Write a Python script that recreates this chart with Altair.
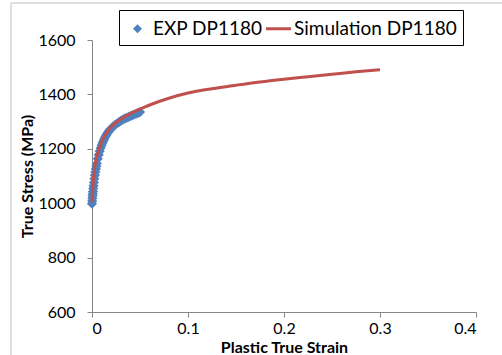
import altair as alt
import pandas as pd

# ---- data ----
exp_strain = [0.0, 0.0002, 0.0004, 0.0006, 0.0008, 0.001, 0.0013, 0.0016, 0.002, 0.0025,
              0.003, 0.0035, 0.004, 0.0045, 0.005, 0.006, 0.007, 0.008, 0.009, 0.010,
              0.011, 0.012, 0.013, 0.014, 0.015, 0.016, 0.017, 0.018, 0.019, 0.020,
              0.022, 0.024, 0.026, 0.028, 0.030, 0.032, 0.034, 0.036, 0.038, 0.040,
              0.042, 0.044, 0.046, 0.048, 0.050]
exp_stress = [998, 1008, 1018, 1027, 1035, 1043, 1054, 1064, 1076, 1090,
              1103, 1115, 1126, 1136, 1146, 1163, 1178, 1191, 1203, 1213,
              1222, 1230, 1238, 1245, 1251, 1257, 1262, 1267, 1271, 1275,
              1282, 1288, 1293, 1298, 1303, 1307, 1311, 1314, 1317, 1320,
              1323, 1326, 1329, 1332, 1335]

sim_strain = [0.0, 0.0005, 0.001, 0.002, 0.003, 0.005, 0.0075, 0.01, 0.0135, 0.02,
              0.027, 0.035, 0.045, 0.05, 0.06, 0.08, 0.1, 0.125, 0.15, 0.175,
              0.2, 0.225, 0.25, 0.275, 0.3]
sim_stress = [1005, 1040, 1065, 1105, 1135, 1170, 1200, 1225, 1250, 1280,
              1302, 1320, 1338, 1346, 1361, 1386, 1405, 1421, 1434, 1446,
              1456, 1465, 1474, 1483, 1491]

series_names = ["EXP DP1180", "Simulation DP1180"]
series_colors = ["#4F81BD", "#C0504D"]
x_ticks = [0, 0.1, 0.2, 0.3, 0.4]
y_ticks = [600, 800, 1000, 1200, 1400, 1600]

exp_df = pd.DataFrame({"strain": exp_strain, "stress": exp_stress, "series": series_names[0]})
sim_df = pd.DataFrame({"strain": sim_strain, "stress": sim_stress, "series": series_names[1]})

DIAMOND = "M0,-0.36L0.36,0L0,0.36L-0.36,0Z"
BAR = "M-1,-0.12H1V0.12H-1Z"
FONT = "Lato"

x_enc = alt.X("strain:Q", scale=alt.Scale(domain=[0, 0.4], nice=False),
              axis=alt.Axis(values=x_ticks, format="~g", title="Plastic True Strain",
                            titleY=40, titleBaseline="alphabetic"))
y_enc = alt.Y("stress:Q", scale=alt.Scale(domain=[600, 1600], nice=False, zero=False),
              axis=alt.Axis(values=y_ticks, format="d", title="True Stress (MPa)"))

leg = alt.Legend(title=None, orient="none", legendX=27, legendY=-30,
                 direction="horizontal", labelLimit=400)

points = alt.Chart(exp_df).mark_point(filled=True, opacity=1, size=800).encode(
    x=x_enc,
    y=y_enc,
    color=alt.Color("series:N", scale=alt.Scale(domain=series_names, range=series_colors),
                    legend=leg),
    shape=alt.Shape("series:N", scale=alt.Scale(domain=series_names, range=[DIAMOND, BAR]),
                    legend=leg),
)

line = alt.Chart(sim_df).mark_line(strokeWidth=3, color=series_colors[1],
                                   interpolate="monotone").encode(
    x="strain:Q",
    y="stress:Q",
)

frame = alt.Chart(alt.Data(values=[{"a": 1}])).mark_rect(
    fill="transparent", stroke="#bfbfbf", strokeWidth=1
).encode(
    x=alt.value(-81), x2=alt.value(420), y=alt.value(-37), y2=alt.value(330)
)

chart = alt.layer(frame, points, line).properties(
    width=384, height=272,
    autosize=alt.AutoSizeParams(type="none"),
    padding={"left": 92, "top": 40, "right": 26, "bottom": 43},
).configure_view(stroke=None).configure_axis(
    grid=False,
    domainColor="#868686",
    tickColor="#868686",
    tickSize=5,
    labelColor="#000000",
    labelFont=FONT,
    labelFontSize=16,
    titleFont=FONT,
    titleFontSize=16,
    titleFontWeight="bold",
    titleColor="#000000",
).configure_axisY(
    labelPadding=12,
    titlePadding=2,
).configure_axisX(
    labelPadding=3,
).configure_legend(
    strokeColor="#000000",
    fillColor="#ffffff",
    padding=6,
    cornerRadius=0,
    labelFont=FONT,
    labelFontSize=19,
    labelColor="#000000",
    symbolSize=625,
    symbolStrokeWidth=0,
    labelOffset=3,
    columnPadding=3,
)

chart.save("out.html", embed_options={"renderer": "svg", "actions": False})
